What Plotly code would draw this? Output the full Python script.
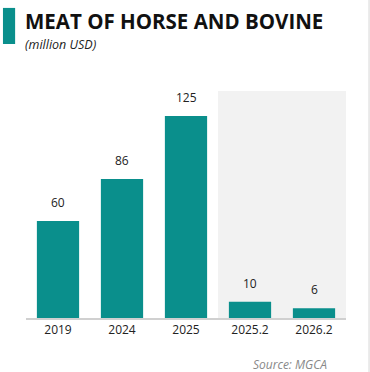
import plotly.graph_objects as go

categories = ["2019", "2024", "2025", "2025.2", "2026.2"]
values = [60, 86, 125, 10, 6]

TEAL = "#0a8f8c"
FONT = "Open Sans"

fig = go.Figure()
fig.add_trace(go.Bar(
    x=categories, y=values,
    marker=dict(color=TEAL, line=dict(width=0)),
    width=0.66,
    hoverinfo="skip",
))

# value labels above bars
for i, v in enumerate(values):
    fig.add_annotation(x=i, y=v, xref="x", yref="y", text=str(v), showarrow=False,
                       yanchor="bottom", yshift=8,
                       font=dict(family=FONT, size=12, color="#222"))

# shaded background behind the partial-year columns
fig.add_shape(type="rect", xref="x", yref="paper", x0=2.5, x1=4.5, y0=0, y1=1,
              fillcolor="#f2f2f2", line=dict(width=0), layer="below")

# title accent block
fig.add_shape(type="rect", xref="paper", yref="paper",
              x0=-0.072, x1=-0.034, y0=1.207, y1=1.366,
              fillcolor=TEAL, line=dict(width=0))

# thin frame line on the right edge
fig.add_shape(type="line", xref="paper", yref="paper",
              x0=1.072, x1=1.072, y0=-0.25, y1=1.41,
              line=dict(color="#e4e4e4", width=1.5))

fig.add_annotation(xref="paper", yref="paper", x=-0.008, y=1.31,
                   xanchor="left", yanchor="middle", showarrow=False,
                   text="<b>MEAT OF HORSE AND BOVINE</b>",
                   font=dict(family=FONT, size=20.5, color="#111"))
fig.add_annotation(xref="paper", yref="paper", x=-0.008, y=1.207,
                   xanchor="left", yanchor="middle", showarrow=False,
                   text="<i>(million USD)</i>",
                   font=dict(family=FONT, size=12.5, color="#222"))
fig.add_annotation(xref="paper", yref="paper", x=0.947, y=-0.207,
                   xanchor="right", yanchor="middle", showarrow=False,
                   text="<i>Source: MGCA</i>",
                   font=dict(family=FONT, size=12, color="#888"))

fig.update_layout(
    width=370, height=372,
    margin=dict(l=26, r=24, t=91, b=54),
    paper_bgcolor="white", plot_bgcolor="rgba(0,0,0,0)",
    showlegend=False,
    bargap=0.34,
)
fig.update_xaxes(type="category", range=[-0.5, 4.5], showline=True,
                 linecolor="#d0d0d0", linewidth=1.5, ticks="", showgrid=False,
                 tickfont=dict(family=FONT, size=12, color="#222"))
fig.update_yaxes(range=[0, 140.5], visible=False, showgrid=False, zeroline=False)

fig.write_html("out.html")
